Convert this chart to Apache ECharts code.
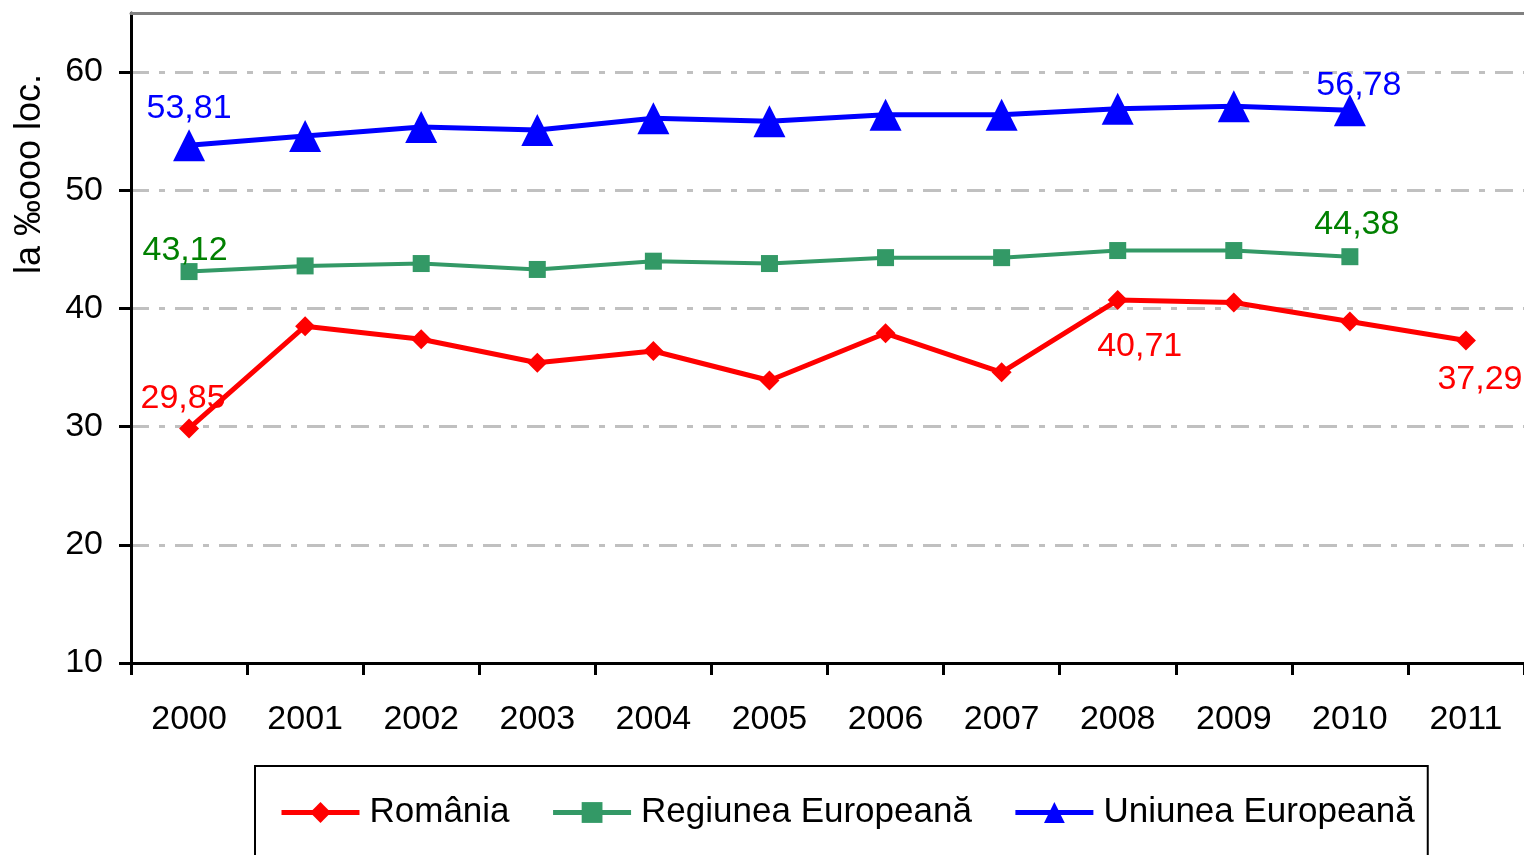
<!DOCTYPE html>
<html>
<head>
<meta charset="utf-8">
<script src="https://cdn.jsdelivr.net/npm/echarts@6/dist/echarts.min.js"></script>
<style>
html,body{margin:0;padding:0;background:#fff;}
#c{width:1524px;height:855px;}
</style>
</head>
<body>
<div id="c"></div>
<script>
var years = ['2000','2001','2002','2003','2004','2005','2006','2007','2008','2009','2010','2011'];
var romania = [29.85, 38.5, 37.4, 35.4, 36.4, 33.9, 37.9, 34.6, 40.71, 40.5, 38.9, 37.29];
var regiunea = [43.12, 43.6, 43.8, 43.3, 44.0, 43.8, 44.3, 44.3, 44.9, 44.9, 44.38, null];
var uniunea = [53.81, 54.6, 55.35, 55.1, 56.1, 55.85, 56.4, 56.4, 56.9, 57.1, 56.78, null];
var yTicks = [10, 20, 30, 40, 50, 60];

// which points carry a value label, and where
var romaniaLabels = {0: 'top', 8: 'bottom', 11: 'bottom'};
var regiuneaLabels = {0: 'top', 10: 'top'};
var uniuneaLabels = {0: 'top', 10: 'top'};
var labelOffsets = {
  r0: [-6, 9], r8: [22, 8], r11: [14, 0],
  g0: [-4, 17], g10: [7, 5],
  u0: [0, 8], u10: [9, 20]
};

function fmt(v){ return v.toFixed(2).replace('.', ','); }

var font = 'Liberation Sans, Arial, sans-serif';

function build(vals, labels, color, key){
  return vals.map(function(v, i){
    if (v === null) return null;
    var item = {value: v};
    if (labels[i]) {
      item.label = {
        show: true, position: labels[i], color: color,
        fontSize: 34, fontFamily: font,
        offset: labelOffsets[key + i] || [0, 0],
        distance: 12,
        formatter: function(p){ return fmt(p.value); }
      };
    }
    return item;
  });
}

var chart = echarts.init(document.getElementById('c'), null, {renderer: 'canvas'});

chart.setOption({
  animation: false,
  backgroundColor: '#ffffff',
  grid: {left: 131, top: 13, right: -1, bottom: 192, containLabel: false},
  xAxis: [{
    type: 'category',
    data: years,
    boundaryGap: true,
    axisLine: {show: true, lineStyle: {color: '#000', width: 3}},
    axisTick: {show: true, inside: false, length: 12, lineStyle: {color: '#000', width: 3}},
    axisLabel: {color: '#000', fontSize: 34, fontFamily: font, margin: 40, interval: 0},
    splitLine: {show: false}
  }, {
    type: 'category',
    data: years,
    position: 'top',
    boundaryGap: true,
    axisLine: {show: true, lineStyle: {color: '#808080', width: 3}},
    axisTick: {show: false},
    axisLabel: {show: false},
    splitLine: {show: false}
  }],
  yAxis: {
    type: 'value',
    min: 10, max: 65, interval: 10,
    axisLine: {show: true, lineStyle: {color: '#000', width: 3}},
    axisTick: {show: true, inside: false, length: 12, lineStyle: {color: '#000', width: 3}},
    axisLabel: {color: '#000', fontSize: 34, fontFamily: font, margin: 28, showMaxLabel: false,
      formatter: function(v){ return yTicks.indexOf(v) >= 0 ? String(v) : ''; }},
    splitLine: {show: true, lineStyle: {color: '#c0c0c0', width: 3, type: [18, 10, 6, 10]}}
  },
  legend: {
    left: 255, top: 766,
    orient: 'horizontal',
    borderColor: '#000', borderWidth: 2, borderRadius: 0,
    padding: [29, 13, 60, 24],
    itemGap: 41,
    itemWidth: 78, itemHeight: 26,
    lineStyle: {width: 5},
    textStyle: {color: '#000', fontSize: 35, fontFamily: font, padding: [0, 0, 0, 5]},
    data: ['România', 'Regiunea Europeană', 'Uniunea Europeană']
  },
  graphic: [{
    type: 'text',
    left: 12, top: 74,
    rotation: Math.PI / 2,
    style: {text: 'la ‰ooo loc.', fontSize: 36, fontFamily: font, fill: '#000'}
  }],
  series: [{
    name: 'România', type: 'line',
    data: build(romania, romaniaLabels, '#ff0000', 'r'),
    symbol: 'diamond', symbolSize: 20,
    lineStyle: {color: '#ff0000', width: 5},
    itemStyle: {color: '#ff0000'},
    z: 3
  }, {
    name: 'Regiunea Europeană', type: 'line',
    data: build(regiunea, regiuneaLabels, '#008000', 'g'),
    symbol: 'rect', symbolSize: 17,
    lineStyle: {color: '#339966', width: 4},
    itemStyle: {color: '#339966'},
    z: 3
  }, {
    name: 'Uniunea Europeană', type: 'line',
    data: build(uniunea, uniuneaLabels, '#0000ff', 'u'),
    symbol: 'triangle', symbolSize: 32,
    lineStyle: {color: '#0000ff', width: 5},
    itemStyle: {color: '#0000ff'},
    z: 3
  }]
});
</script>
</body>
</html>
